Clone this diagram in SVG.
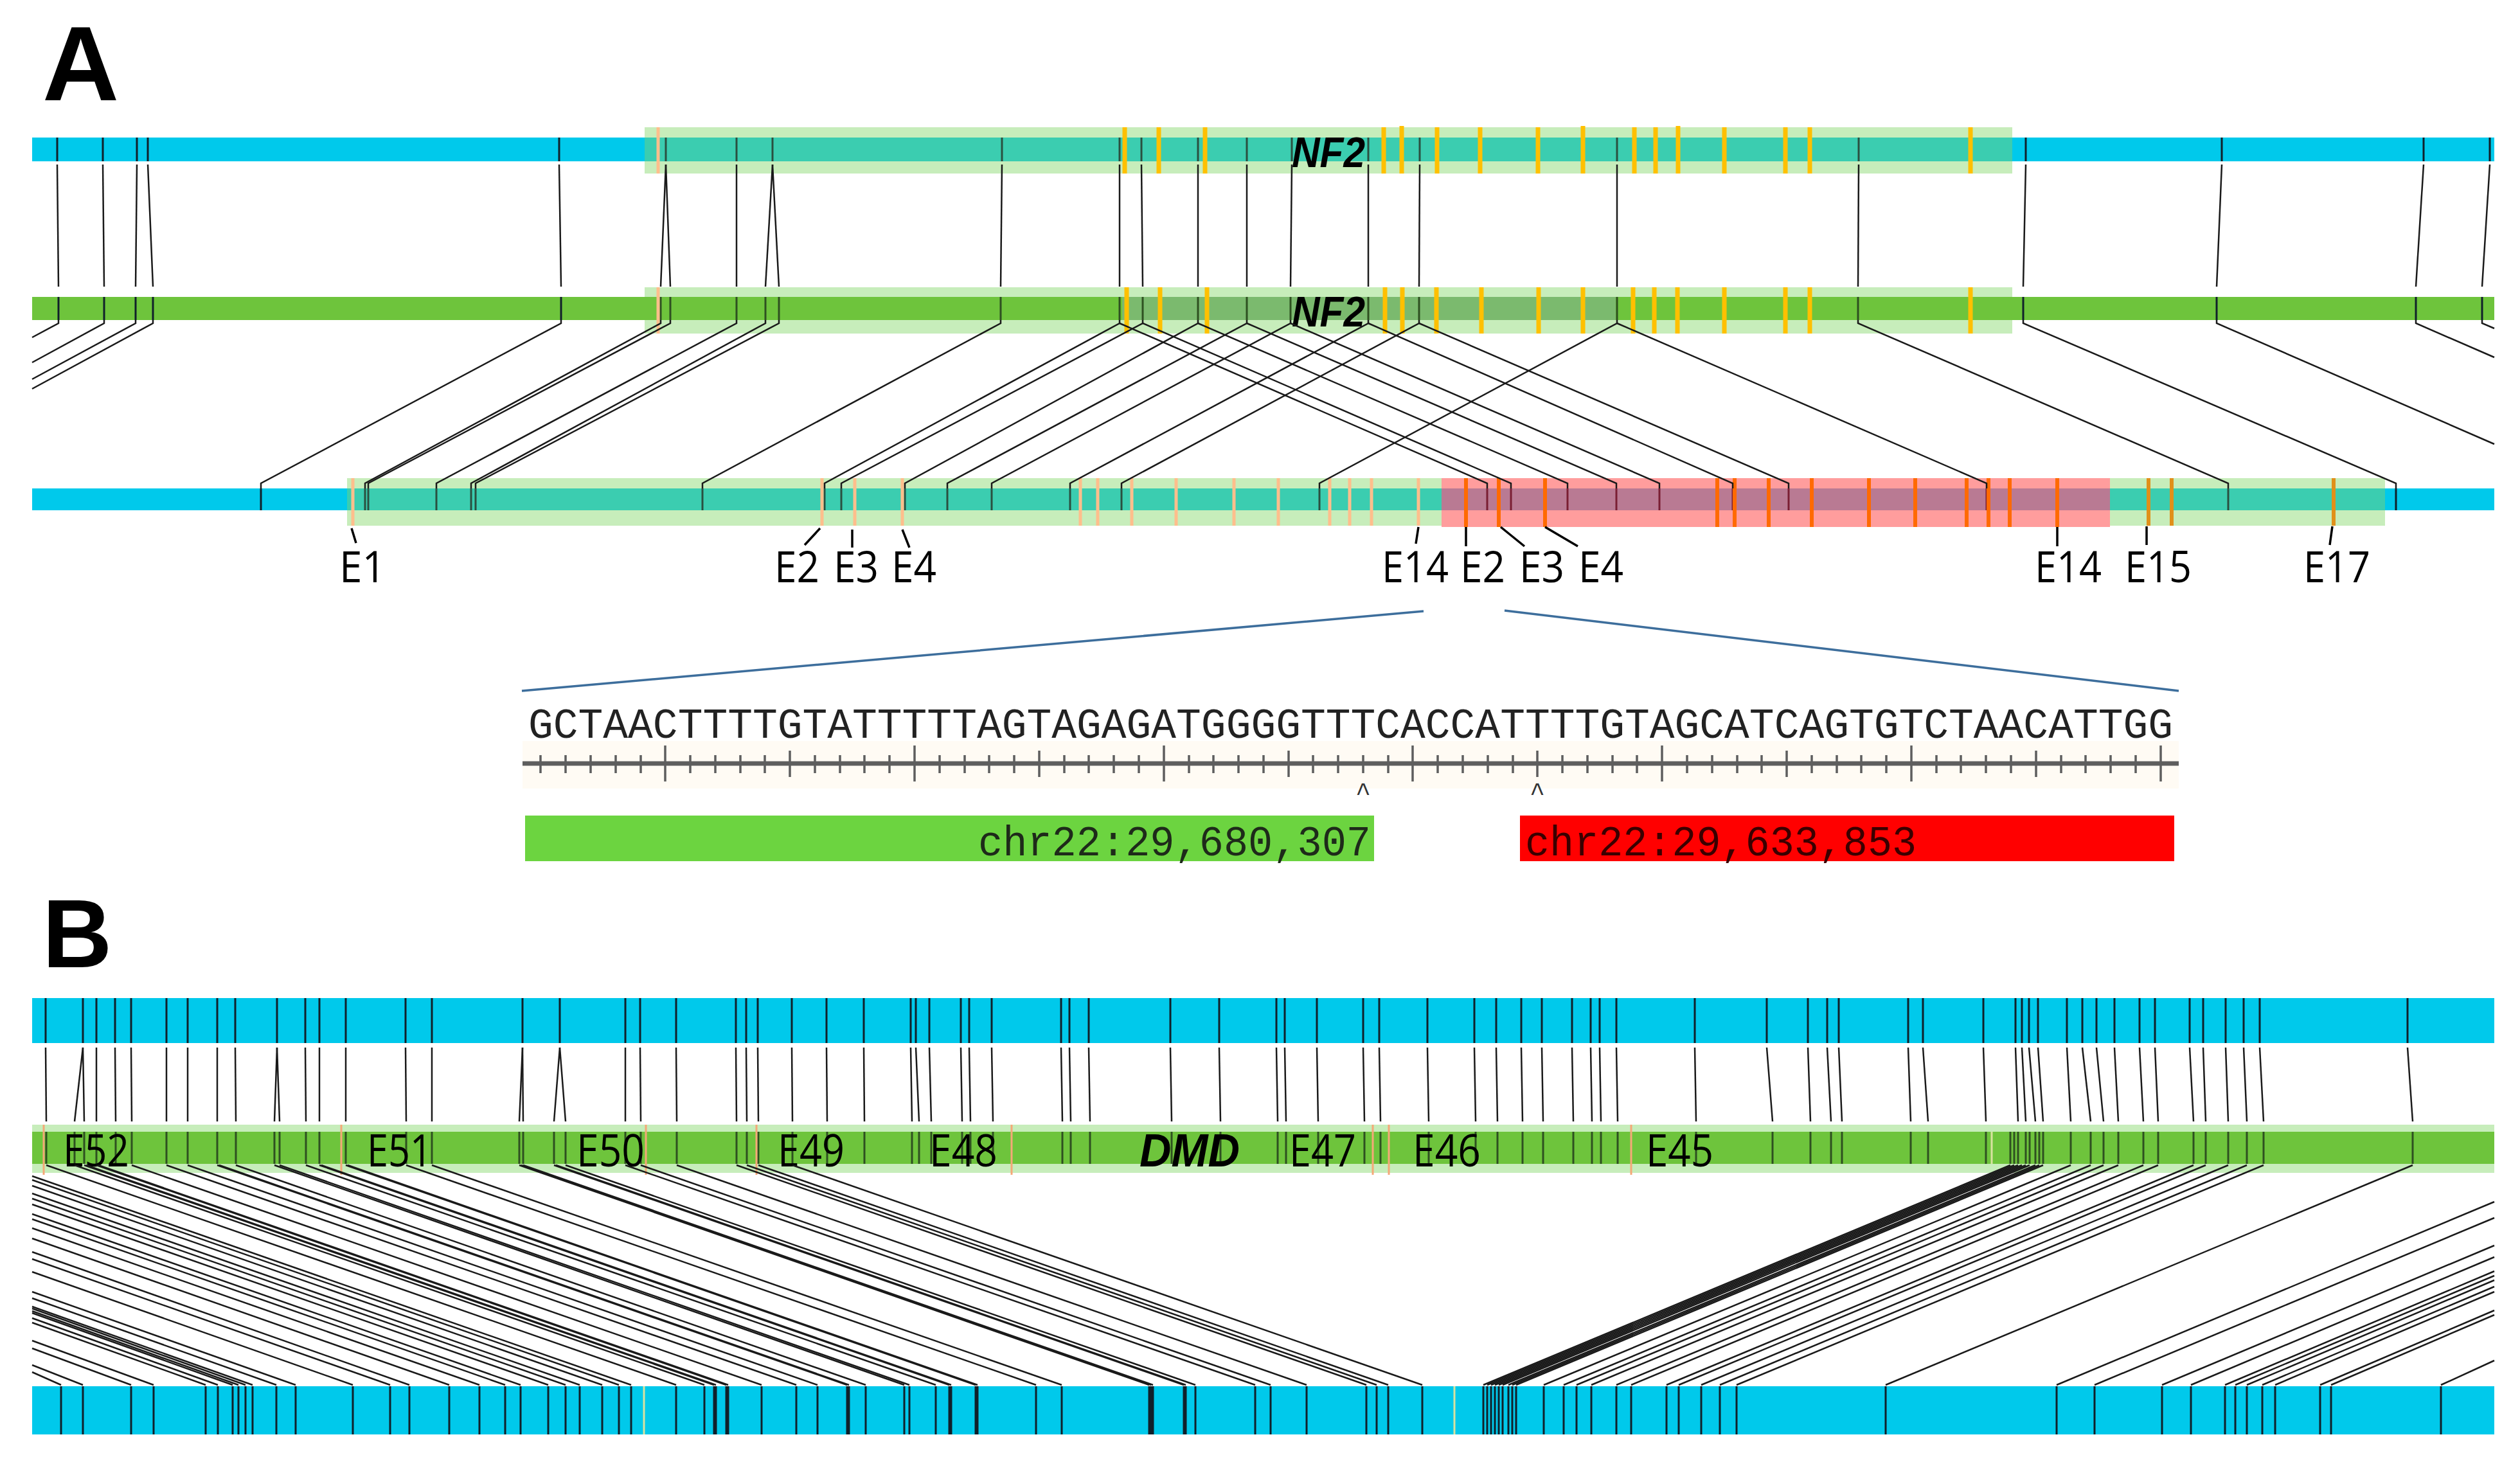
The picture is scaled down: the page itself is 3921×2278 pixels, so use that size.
<svg xmlns="http://www.w3.org/2000/svg" width="3921" height="2278" viewBox="0 0 3921 2278">
<style>
.hl{fill:#C7EDBB}
.blue{fill:#00C9EB}
.teal{fill:#3BCDB0}
.grn{fill:#6EC43C}
.dgrn{fill:#7BBA6E}
.pink{fill:#FF9D9D}
.mauve{fill:#B97A93}
.tk{stroke:#10202a;stroke-width:3;fill:none}
.tkg{stroke:#2a5040;stroke-width:3;fill:none}
.tkd{stroke:#2e5020;stroke-width:3;fill:none}
.tkr{stroke:#7a1e33;stroke-width:3;fill:none}
.ex{stroke:#FFC000;stroke-width:7;fill:none}
.exl{stroke:#FFBE8C;stroke-width:5;fill:none}
.exr{stroke:#FF6A00;stroke-width:6;fill:none}
.exb{stroke:#E0901A;stroke-width:6;fill:none}
.exthin{stroke:#F5A878;stroke-width:3;fill:none}
.exy{stroke:#D8E2A0;stroke-width:3;fill:none}
.con{stroke:#1a1a1a;stroke-width:2.5;fill:none}
.ltk{stroke:#000;stroke-width:3.5;fill:none}
.zoom{stroke:#3D6E9C;stroke-width:3.5;fill:none}
.lbl{font-family:"Open Sans","Liberation Sans",sans-serif;font-size:68px;fill:#000}
.lblb{font-family:"Open Sans","Liberation Sans",sans-serif;font-size:70px;fill:#000}
.gene{font-family:"Liberation Sans","Open Sans",sans-serif;font-weight:bold;font-style:italic;fill:#000}
.mono{font-family:"Liberation Mono","DejaVu Sans Mono",monospace}
.panel{font-family:"Liberation Sans","Open Sans",sans-serif;font-weight:bold;fill:#000}
</style>
<rect width="3921" height="2278" fill="#FFFFFF"/>

<text class="panel" x="66" y="156" font-size="165">A</text>
<text class="panel" x="66" y="1505" font-size="150">B</text>

<!-- Panel A track 1 -->
<g id="track-a1">
<rect class="hl" x="1003" y="198" width="2128" height="72"/>
<rect class="blue" x="50" y="214" width="953" height="37"/>
<rect class="teal" x="1003" y="214" width="2128" height="37"/>
<rect class="blue" x="3131" y="214" width="750" height="37"/>
<path class="tk" d="M89 214V251M160 214V251M213 214V251M230 214V251M870 214V251M3152 214V251M3457 214V251M3771 214V251M3874 214V251"/>
<path class="tkg" d="M1036 214V251M1146 214V251M1202 214V251M1559 214V251M1742 214V251M1776 214V251M1864 214V251M1940 214V251M2010 214V251M2129 214V251M2209 214V251M2516 214V251M2892 214V251"/>
<path class="exl" d="M1024 198V270"/>
<path class="ex" d="M1750 198V270M1803 198V270M1875 198V270M2153 198V270M2181 196V270M2236 198V270M2303 198V270M2393 198V270M2463 196V270M2543 198V270M2576 198V270M2611 196V270M2683 198V270M2778 198V270M2816 198V270M3066 198V270"/>
<text class="gene" x="2010" y="260" font-size="66" textLength="114" lengthAdjust="spacingAndGlyphs">NF2</text>
</g>

<!-- Panel A track 2 -->
<g id="track-a2">
<rect class="hl" x="1003" y="447" width="2128" height="72"/>
<rect class="grn" x="50" y="462" width="3831" height="36"/>
<rect class="dgrn" x="1746" y="462" width="768" height="36"/>
<path class="tk" d="M91 462V498M162 462V498M211 462V498M238 462V498M873 462V498M3148 462V498M3449 462V498M3759 462V498M3862 462V498"/>
<path class="tkd" d="M1028 462V498M1043 462V498M1146 462V498M1191 462V498M1212 462V498M1557 462V498M1742 462V498M1778 462V498M1864 462V498M1940 462V498M2008 462V498M2129 462V498M2208 462V498M2516 462V498M2891 462V498"/>
<path class="exl" d="M1024 447V519"/>
<path class="ex" d="M1753 447V519M1805 447V519M1878 447V519M2155 447V519M2182 447V519M2235 447V519M2305 447V519M2394 447V519M2463 447V519M2541 447V519M2574 447V519M2610 447V519M2683 447V519M2778 447V519M2816 447V519M3066 447V519"/>
<text class="gene" x="2010" y="508" font-size="66" textLength="114" lengthAdjust="spacingAndGlyphs">NF2</text>
</g>

<!-- Panel A track 3 -->
<g id="track-a3">
<rect class="hl" x="540" y="744" width="1703" height="74"/>
<rect class="hl" x="3283" y="744" width="428" height="74"/>
<rect class="pink" x="2243" y="744" width="1040" height="76"/>
<rect class="blue" x="50" y="760" width="490" height="34"/>
<rect class="teal" x="540" y="760" width="1703" height="34"/>
<rect class="mauve" x="2243" y="760" width="1040" height="34"/>
<rect class="teal" x="3283" y="760" width="428" height="34"/>
<rect class="blue" x="3711" y="760" width="170" height="34"/>
<path class="tk" d="M406 760V794M3728 760V794"/>
<path class="tkg" d="M568 760V794M573 760V794M679 760V794M733 760V794M740 760V794M1093 760V794M1283 760V794M1309 760V794M1408 760V794M1474 760V794M1543 760V794M1665 760V794M1745 760V794M2053 760V794M3467 760V794"/>
<path class="tkr" d="M2314 760V794M2351 760V794M2439 760V794M2515 760V794M2582 760V794M2696 760V794M2783 760V794M3091 760V794"/>
<path class="exl" d="M549 744V818M1279 744V818M1330 744V818M1404 744V818M1681 744V818M1708 744V818M1761 744V818M1830 744V818M1920 744V818M1989 744V818M2069 744V818M2100 744V818M2134 744V818M2207 744V818"/>
<path class="exr" d="M2281 744V820M2332 744V820M2404 744V820M2672 744V820M2699 744V820M2752 744V820M2819 744V820M2908 744V820M2980 744V820M3060 744V820M3094 744V820M3127 744V820M3201 744V820"/>
<path class="exb" d="M3343 744V818M3379 744V818M3631 744V818"/>
</g>

<!-- Exon labels for track 3 -->
<g id="exon-labels-a">
<path class="ltk" d="M547 822L554 845M1276 822L1252 848M1326 824V852M1404 824L1415 852M2207 820L2203 846M2281 820V850M2335 820L2372 850M2404 820L2455 850M3201 820V850M3340 819V848M3629 819L3625 848"/>
<text class="lbl" x="528" y="906" textLength="72" lengthAdjust="spacingAndGlyphs">E1</text>
<text class="lbl" x="1205" y="906" textLength="70" lengthAdjust="spacingAndGlyphs">E2</text>
<text class="lbl" x="1297" y="906" textLength="70" lengthAdjust="spacingAndGlyphs">E3</text>
<text class="lbl" x="1387" y="906" textLength="70" lengthAdjust="spacingAndGlyphs">E4</text>
<text class="lbl" x="2150" y="906" textLength="104" lengthAdjust="spacingAndGlyphs">E14</text>
<text class="lbl" x="2272" y="906" textLength="70" lengthAdjust="spacingAndGlyphs">E2</text>
<text class="lbl" x="2364" y="906" textLength="70" lengthAdjust="spacingAndGlyphs">E3</text>
<text class="lbl" x="2456" y="906" textLength="70" lengthAdjust="spacingAndGlyphs">E4</text>
<text class="lbl" x="3166" y="906" textLength="104" lengthAdjust="spacingAndGlyphs">E14</text>
<text class="lbl" x="3306" y="906" textLength="104" lengthAdjust="spacingAndGlyphs">E15</text>
<text class="lbl" x="3584" y="906" textLength="104" lengthAdjust="spacingAndGlyphs">E17</text>
</g>

<!-- Zoom detail: breakpoint sequence -->
<g id="breakpoint-detail">
<path class="zoom" d="M812 1075L2215 951M2341 950L3390 1075"/>
<rect x="813" y="1153" width="2577" height="74" fill="#FFFBF4"/>
<text class="mono" x="822" y="1148" font-size="66" fill="#222" textLength="2559" lengthAdjust="spacingAndGlyphs">GCTAACTTTTGTATTTTTAGTAGAGATGGGGTTTCACCATTTTGTAGCATCAGTGTCTAACATTGG</text>
<path d="M813 1188H3390" stroke="#5E5E5E" stroke-width="7" fill="none"/>
<path stroke="#5E5E5E" stroke-width="3.5" fill="none" d="M841 1175V1203M880 1175V1203M919 1175V1203M958 1175V1203M997 1175V1203M1074 1175V1203M1113 1175V1203M1152 1175V1203M1190 1175V1203M1268 1175V1203M1307 1175V1203M1345 1175V1203M1384 1175V1203M1462 1175V1203M1501 1175V1203M1539 1175V1203M1578 1175V1203M1656 1175V1203M1694 1175V1203M1733 1175V1203M1772 1175V1203M1850 1175V1203M1888 1175V1203M1927 1175V1203M1966 1175V1203M2043 1175V1203M2082 1175V1203M2121 1175V1203M2160 1175V1203M2237 1175V1203M2276 1175V1203M2315 1175V1203M2354 1175V1203M2431 1175V1203M2470 1175V1203M2509 1175V1203M2547 1175V1203M2625 1175V1203M2664 1175V1203M2703 1175V1203M2741 1175V1203M2819 1175V1203M2858 1175V1203M2896 1175V1203M2935 1175V1203M3013 1175V1203M3051 1175V1203M3090 1175V1203M3129 1175V1203M3207 1175V1203M3245 1175V1203M3284 1175V1203M3323 1175V1203"/>
<path stroke="#5E5E5E" stroke-width="3.5" fill="none" d="M1229 1168V1209M1617 1168V1209M2005 1168V1209M2392 1168V1209M2780 1168V1209M3168 1168V1209"/>
<path stroke="#5E5E5E" stroke-width="3.5" fill="none" d="M1035 1160V1216M1423 1160V1216M1811 1160V1216M2198 1160V1216M2586 1160V1216M2974 1160V1216M3362 1160V1216"/>
<text class="mono" x="2121" y="1246" font-size="40" fill="#333" text-anchor="middle">^</text>
<text class="mono" x="2392" y="1246" font-size="40" fill="#333" text-anchor="middle">^</text>
<rect x="817" y="1269" width="1321" height="71" fill="#6CD440"/>
<text class="mono" x="2133" y="1331" font-size="66" fill="#1e2a1a" text-anchor="end" textLength="611" lengthAdjust="spacingAndGlyphs">chr22:29,680,307</text>
<rect x="2365" y="1269" width="1018" height="71" fill="#FF0000"/>
<text class="mono" x="2373" y="1331" font-size="66" fill="#3a0000" textLength="609" lengthAdjust="spacingAndGlyphs">chr22:29,633,853</text>
</g>

<!-- Panel B track 1 -->
<g id="track-b1">
<rect class="blue" x="50" y="1553" width="3831" height="70"/>
<path class="tk" d="M71 1553V1623M129 1553V1623M150 1553V1623M179 1553V1623M204 1553V1623M259 1553V1623M292 1553V1623M338 1553V1623M366 1553V1623M431 1553V1623M475 1553V1623M497 1553V1623M538 1553V1623M631 1553V1623M672 1553V1623M813 1553V1623M871 1553V1623M973 1553V1623M996 1553V1623M1052 1553V1623M1145 1553V1623M1161 1553V1623M1179 1553V1623M1232 1553V1623M1286 1553V1623M1344 1553V1623M1417 1553V1623M1425 1553V1623M1446 1553V1623M1495 1553V1623M1508 1553V1623M1543 1553V1623M1651 1553V1623M1664 1553V1623M1694 1553V1623M1821 1553V1623M1897 1553V1623M1986 1553V1623M1999 1553V1623M2049 1553V1623M2121 1553V1623M2146 1553V1623M2221 1553V1623M2294 1553V1623M2328 1553V1623M2367 1553V1623M2399 1553V1623M2446 1553V1623M2475 1553V1623M2489 1553V1623M2515 1553V1623M2637 1553V1623M2749 1553V1623M2813 1553V1623M2843 1553V1623M2861 1553V1623M2969 1553V1623M2992 1553V1623M3086 1553V1623M3136 1553V1623M3146 1553V1623M3157 1553V1623M3171 1553V1623M3216 1553V1623M3240 1553V1623M3262 1553V1623M3290 1553V1623M3329 1553V1623M3353 1553V1623M3407 1553V1623M3428 1553V1623M3463 1553V1623M3491 1553V1623M3516 1553V1623M3746 1553V1623"/>
</g>

<!-- Panel B track 2 (DMD) -->
<g id="track-b2">
<rect class="hl" x="50" y="1750" width="3831" height="75"/>
<rect class="grn" x="50" y="1761" width="3831" height="50"/>
<path class="tkd" d="M72 1761V1811M116 1761V1811M131 1761V1811M150 1761V1811M180 1761V1811M205 1761V1811M259 1761V1811M292 1761V1811M338 1761V1811M367 1761V1811M427 1761V1811M435 1761V1811M476 1761V1811M497 1761V1811M538 1761V1811M632 1761V1811M672 1761V1811M808 1761V1811M814 1761V1811M862 1761V1811M880 1761V1811M973 1761V1811M997 1761V1811M1053 1761V1811M1146 1761V1811M1162 1761V1811M1180 1761V1811M1233 1761V1811M1287 1761V1811M1345 1761V1811M1419 1761V1811M1430 1761V1811M1449 1761V1811M1497 1761V1811M1510 1761V1811M1545 1761V1811M1653 1761V1811M1666 1761V1811M1696 1761V1811M1823 1761V1811M1899 1761V1811M1988 1761V1811M2001 1761V1811M2051 1761V1811M2123 1761V1811M2148 1761V1811M2223 1761V1811M2296 1761V1811M2330 1761V1811M2369 1761V1811M2401 1761V1811M2448 1761V1811M2477 1761V1811M2491 1761V1811M2517 1761V1811M2639 1761V1811M2758 1761V1811M2817 1761V1811M2849 1761V1811M2866 1761V1811M2973 1761V1811M3000 1761V1811M3090 1761V1811M3128 1761V1811M3134 1761V1811M3140 1761V1811M3152 1761V1811M3158 1761V1811M3167 1761V1811M3173 1761V1811M3179 1761V1811M3222 1761V1811M3253 1761V1811M3273 1761V1811M3296 1761V1811M3335 1761V1811M3358 1761V1811M3413 1761V1811M3432 1761V1811M3467 1761V1811M3496 1761V1811M3522 1761V1811M3754 1761V1811"/>
<path class="exthin" d="M68 1750V1828M531 1750V1828M1005 1750V1828M1177 1750V1828M1574 1750V1828M2136 1750V1828M2161 1750V1828M2538 1750V1828"/>
<path class="exy" d="M3099 1761V1811"/>
<text class="lblb" x="98" y="1815" textLength="103" lengthAdjust="spacingAndGlyphs">E52</text>
<text class="lblb" x="571" y="1815" textLength="101" lengthAdjust="spacingAndGlyphs">E51</text>
<text class="lblb" x="897" y="1815" textLength="106" lengthAdjust="spacingAndGlyphs">E50</text>
<text class="lblb" x="1210" y="1815" textLength="104" lengthAdjust="spacingAndGlyphs">E49</text>
<text class="lblb" x="1446" y="1815" textLength="106" lengthAdjust="spacingAndGlyphs">E48</text>
<text class="gene" x="1773" y="1815" font-size="72" textLength="156" lengthAdjust="spacingAndGlyphs">DMD</text>
<text class="lblb" x="2006" y="1815" textLength="104" lengthAdjust="spacingAndGlyphs">E47</text>
<text class="lblb" x="2198" y="1815" textLength="106" lengthAdjust="spacingAndGlyphs">E46</text>
<text class="lblb" x="2561" y="1815" textLength="105" lengthAdjust="spacingAndGlyphs">E45</text>
</g>

<!-- Panel B track 3 -->
<g id="track-b3">
<rect class="blue" x="50" y="2157" width="3831" height="75"/>
<path class="tk" d="M95 2157V2232M129 2157V2232M204 2157V2232M239 2157V2232M320 2157V2232M339 2157V2232M362 2157V2232M371 2157V2232M382 2157V2232M393 2157V2232M430 2157V2232M460 2157V2232M549 2157V2232M607 2157V2232M637 2157V2232M699 2157V2232M746 2157V2232M786 2157V2232M810 2157V2232M853 2157V2232M880 2157V2232M902 2157V2232M937 2157V2232M963 2157V2232M982 2157V2232M1052 2157V2232M1096 2157V2232M1111 2157V2232M1114 2157V2232M1130 2157V2232M1133 2157V2232M1185 2157V2232M1239 2157V2232M1272 2157V2232M1318 2157V2232M1321 2157V2232M1347 2157V2232M1407 2157V2232M1415 2157V2232M1456 2157V2232M1477 2157V2232M1480 2157V2232M1518 2157V2232M1521 2157V2232M1612 2157V2232M1652 2157V2232M1788 2157V2232M1791 2157V2232M1794 2157V2232M1842 2157V2232M1845 2157V2232M1860 2157V2232M1953 2157V2232M1977 2157V2232M2033 2157V2232M2126 2157V2232M2142 2157V2232M2160 2157V2232M2213 2157V2232M2308 2157V2232M2314 2157V2232M2320 2157V2232M2326 2157V2232M2332 2157V2232M2338 2157V2232M2347 2157V2232M2353 2157V2232M2359 2157V2232M2402 2157V2232M2433 2157V2232M2453 2157V2232M2476 2157V2232M2515 2157V2232M2538 2157V2232M2593 2157V2232M2612 2157V2232M2647 2157V2232M2676 2157V2232M2702 2157V2232M2934 2157V2232M3200 2157V2232M3259 2157V2232M3364 2157V2232M3409 2157V2232M3462 2157V2232M3478 2157V2232M3496 2157V2232M3520 2157V2232M3540 2157V2232M3610 2157V2232M3627 2157V2232M3798 2157V2232"/>
<path class="exy" d="M1002 2157V2232M2263 2157V2232"/>
</g>

<!-- Connectors -->
<g id="connectors">
<!-- A: track1 to track2 -->
<path class="con" d="M89 256L91 446"/>
<path class="con" d="M160 256L162 446"/>
<path class="con" d="M213 256L211 446"/>
<path class="con" d="M230 256L238 446"/>
<path class="con" d="M870 256L873 446"/>
<path class="con" d="M1036 256L1028 446"/>
<path class="con" d="M1036 256L1043 446"/>
<path class="con" d="M1146 256L1146 446"/>
<path class="con" d="M1202 256L1191 446"/>
<path class="con" d="M1202 256L1212 446"/>
<path class="con" d="M1559 256L1557 446"/>
<path class="con" d="M1742 256L1742 446"/>
<path class="con" d="M1776 256L1778 446"/>
<path class="con" d="M1864 256L1864 446"/>
<path class="con" d="M1940 256L1940 446"/>
<path class="con" d="M2010 256L2008 446"/>
<path class="con" d="M2129 256L2129 446"/>
<path class="con" d="M2209 256L2208 446"/>
<path class="con" d="M2516 256L2516 446"/>
<path class="con" d="M2892 256L2891 446"/>
<path class="con" d="M3152 256L3148 446"/>
<path class="con" d="M3457 256L3449 446"/>
<path class="con" d="M3771 256L3759 446"/>
<path class="con" d="M3874 256L3862 446"/>
<!-- A: track2 to track3 -->
<path class="con" d="M91 498V503L50 525"/>
<path class="con" d="M162 498V503L50 564"/>
<path class="con" d="M211 498V503L50 590"/>
<path class="con" d="M238 498V503L50 605"/>
<path class="con" d="M873 498V503L406 752V760"/>
<path class="con" d="M1028 498V503L568 752V760"/>
<path class="con" d="M1043 498V503L573 752V760"/>
<path class="con" d="M1146 498V503L679 752V760"/>
<path class="con" d="M1191 498V503L733 752V760"/>
<path class="con" d="M1212 498V503L740 752V760"/>
<path class="con" d="M1557 498V503L1093 752V760"/>
<path class="con" d="M1742 498V503L1283 752V760"/>
<path class="con" d="M1742 503L2314 752V760"/>
<path class="con" d="M1778 498V503L1309 752V760"/>
<path class="con" d="M1778 503L2351 752V760"/>
<path class="con" d="M1864 498V503L1408 752V760"/>
<path class="con" d="M1864 503L2439 752V760"/>
<path class="con" d="M1940 498V503L1474 752V760"/>
<path class="con" d="M1940 503L2515 752V760"/>
<path class="con" d="M2008 498V503L1543 752V760"/>
<path class="con" d="M2008 503L2582 752V760"/>
<path class="con" d="M2129 498V503L1665 752V760"/>
<path class="con" d="M2129 503L2696 752V760"/>
<path class="con" d="M2208 498V503L1745 752V760"/>
<path class="con" d="M2208 503L2783 752V760"/>
<path class="con" d="M2516 498V503L2053 752V760"/>
<path class="con" d="M2516 503L3091 752V760"/>
<path class="con" d="M2891 498V503L3467 752V760"/>
<path class="con" d="M3148 498V503L3728 752V760"/>
<path class="con" d="M3449 498V503L3881 691"/>
<path class="con" d="M3759 498V503L3881 556"/>
<path class="con" d="M3862 498V503L3881 511"/>
<!-- B: track1 to track2 -->
<path class="con" d="M71 1630L72 1745"/>
<path class="con" d="M129 1630L116 1745"/>
<path class="con" d="M129 1630L131 1745"/>
<path class="con" d="M150 1630L150 1745"/>
<path class="con" d="M179 1630L180 1745"/>
<path class="con" d="M204 1630L205 1745"/>
<path class="con" d="M259 1630L259 1745"/>
<path class="con" d="M292 1630L292 1745"/>
<path class="con" d="M338 1630L338 1745"/>
<path class="con" d="M366 1630L367 1745"/>
<path class="con" d="M431 1630L427 1745"/>
<path class="con" d="M431 1630L435 1745"/>
<path class="con" d="M475 1630L476 1745"/>
<path class="con" d="M497 1630L497 1745"/>
<path class="con" d="M538 1630L538 1745"/>
<path class="con" d="M631 1630L632 1745"/>
<path class="con" d="M672 1630L672 1745"/>
<path class="con" d="M813 1630L808 1745"/>
<path class="con" d="M813 1630L814 1745"/>
<path class="con" d="M871 1630L862 1745"/>
<path class="con" d="M871 1630L880 1745"/>
<path class="con" d="M973 1630L973 1745"/>
<path class="con" d="M996 1630L997 1745"/>
<path class="con" d="M1052 1630L1053 1745"/>
<path class="con" d="M1145 1630L1146 1745"/>
<path class="con" d="M1161 1630L1162 1745"/>
<path class="con" d="M1179 1630L1180 1745"/>
<path class="con" d="M1232 1630L1233 1745"/>
<path class="con" d="M1286 1630L1287 1745"/>
<path class="con" d="M1344 1630L1345 1745"/>
<path class="con" d="M1417 1630L1419 1745"/>
<path class="con" d="M1425 1630L1430 1745"/>
<path class="con" d="M1446 1630L1449 1745"/>
<path class="con" d="M1495 1630L1497 1745"/>
<path class="con" d="M1508 1630L1510 1745"/>
<path class="con" d="M1543 1630L1545 1745"/>
<path class="con" d="M1651 1630L1653 1745"/>
<path class="con" d="M1664 1630L1666 1745"/>
<path class="con" d="M1694 1630L1696 1745"/>
<path class="con" d="M1821 1630L1823 1745"/>
<path class="con" d="M1897 1630L1899 1745"/>
<path class="con" d="M1986 1630L1988 1745"/>
<path class="con" d="M1999 1630L2001 1745"/>
<path class="con" d="M2049 1630L2051 1745"/>
<path class="con" d="M2121 1630L2123 1745"/>
<path class="con" d="M2146 1630L2148 1745"/>
<path class="con" d="M2221 1630L2223 1745"/>
<path class="con" d="M2294 1630L2296 1745"/>
<path class="con" d="M2328 1630L2330 1745"/>
<path class="con" d="M2367 1630L2369 1745"/>
<path class="con" d="M2399 1630L2401 1745"/>
<path class="con" d="M2446 1630L2448 1745"/>
<path class="con" d="M2475 1630L2477 1745"/>
<path class="con" d="M2489 1630L2491 1745"/>
<path class="con" d="M2515 1630L2517 1745"/>
<path class="con" d="M2637 1630L2639 1745"/>
<path class="con" d="M2749 1630L2758 1745"/>
<path class="con" d="M2813 1630L2817 1745"/>
<path class="con" d="M2843 1630L2849 1745"/>
<path class="con" d="M2861 1630L2866 1745"/>
<path class="con" d="M2969 1630L2973 1745"/>
<path class="con" d="M2992 1630L3000 1745"/>
<path class="con" d="M3086 1630L3090 1745"/>
<path class="con" d="M3136 1630L3140 1745"/>
<path class="con" d="M3146 1630L3152 1745"/>
<path class="con" d="M3157 1630L3167 1745"/>
<path class="con" d="M3171 1630L3179 1745"/>
<path class="con" d="M3216 1630L3222 1745"/>
<path class="con" d="M3240 1630L3253 1745"/>
<path class="con" d="M3262 1630L3273 1745"/>
<path class="con" d="M3290 1630L3296 1745"/>
<path class="con" d="M3329 1630L3335 1745"/>
<path class="con" d="M3353 1630L3358 1745"/>
<path class="con" d="M3407 1630L3413 1745"/>
<path class="con" d="M3428 1630L3432 1745"/>
<path class="con" d="M3463 1630L3467 1745"/>
<path class="con" d="M3491 1630L3496 1745"/>
<path class="con" d="M3516 1630L3522 1745"/>
<path class="con" d="M3746 1630L3754 1745"/>
<!-- B: track2 to track3, left block -->
<path class="con" d="M50 2135L95 2155"/>
<path class="con" d="M50 2124L129 2155"/>
<path class="con" d="M50 2098L204 2155"/>
<path class="con" d="M50 2086L239 2155"/>
<path class="con" d="M50 2058L320 2155"/>
<path class="con" d="M50 2051L339 2155"/>
<path class="con" d="M50 2043L362 2155"/>
<path class="con" d="M50 2040L371 2155"/>
<path class="con" d="M50 2036L382 2155"/>
<path class="con" d="M50 2033L393 2155"/>
<path class="con" d="M50 2020L430 2155"/>
<path class="con" d="M50 2010L460 2155"/>
<path class="con" d="M50 1979L549 2155"/>
<path class="con" d="M50 1959L607 2155"/>
<path class="con" d="M50 1948L637 2155"/>
<path class="con" d="M50 1927L699 2155"/>
<path class="con" d="M50 1911L746 2155"/>
<path class="con" d="M50 1897L786 2155"/>
<path class="con" d="M50 1889L810 2155"/>
<path class="con" d="M50 1874L853 2155"/>
<path class="con" d="M50 1865L880 2155"/>
<path class="con" d="M50 1857L902 2155"/>
<path class="con" d="M50 1845L937 2155"/>
<path class="con" d="M50 1836L963 2155"/>
<path class="con" d="M50 1830L982 2155"/>
<path class="con" d="M72 1813L1052 2155"/>
<path class="con" d="M116 1813L1096 2155"/>
<path class="con" d="M131 1813L1111 2155"/>
<path class="con" d="M134 1813L1114 2155"/>
<path class="con" d="M150 1813L1130 2155"/>
<path class="con" d="M153 1813L1133 2155"/>
<path class="con" d="M205 1813L1185 2155"/>
<path class="con" d="M259 1813L1239 2155"/>
<path class="con" d="M292 1813L1272 2155"/>
<path class="con" d="M338 1813L1318 2155"/>
<path class="con" d="M341 1813L1321 2155"/>
<path class="con" d="M367 1813L1347 2155"/>
<path class="con" d="M427 1813L1407 2155"/>
<path class="con" d="M435 1813L1415 2155"/>
<path class="con" d="M476 1813L1456 2155"/>
<path class="con" d="M497 1813L1477 2155"/>
<path class="con" d="M500 1813L1480 2155"/>
<path class="con" d="M538 1813L1518 2155"/>
<path class="con" d="M541 1813L1521 2155"/>
<path class="con" d="M632 1813L1612 2155"/>
<path class="con" d="M672 1813L1652 2155"/>
<path class="con" d="M808 1813L1788 2155"/>
<path class="con" d="M811 1813L1791 2155"/>
<path class="con" d="M814 1813L1794 2155"/>
<path class="con" d="M862 1813L1842 2155"/>
<path class="con" d="M865 1813L1845 2155"/>
<path class="con" d="M880 1813L1860 2155"/>
<path class="con" d="M973 1813L1953 2155"/>
<path class="con" d="M997 1813L1977 2155"/>
<path class="con" d="M1053 1813L2033 2155"/>
<path class="con" d="M1146 1813L2126 2155"/>
<path class="con" d="M1162 1813L2142 2155"/>
<path class="con" d="M1180 1813L2160 2155"/>
<path class="con" d="M1233 1813L2213 2155"/>
<!-- B: track2 to track3, right block -->
<path class="con" d="M3128 1813L2308 2155"/>
<path class="con" d="M3134 1813L2314 2155"/>
<path class="con" d="M3140 1813L2320 2155"/>
<path class="con" d="M3146 1813L2326 2155"/>
<path class="con" d="M3152 1813L2332 2155"/>
<path class="con" d="M3158 1813L2338 2155"/>
<path class="con" d="M3167 1813L2347 2155"/>
<path class="con" d="M3173 1813L2353 2155"/>
<path class="con" d="M3179 1813L2359 2155"/>
<path class="con" d="M3222 1813L2402 2155"/>
<path class="con" d="M3253 1813L2433 2155"/>
<path class="con" d="M3273 1813L2453 2155"/>
<path class="con" d="M3296 1813L2476 2155"/>
<path class="con" d="M3335 1813L2515 2155"/>
<path class="con" d="M3358 1813L2538 2155"/>
<path class="con" d="M3413 1813L2593 2155"/>
<path class="con" d="M3432 1813L2612 2155"/>
<path class="con" d="M3467 1813L2647 2155"/>
<path class="con" d="M3496 1813L2676 2155"/>
<path class="con" d="M3522 1813L2702 2155"/>
<path class="con" d="M3754 1813L2934 2155"/>
<path class="con" d="M3881 1870L3200 2155"/>
<path class="con" d="M3881 1895L3259 2155"/>
<path class="con" d="M3881 1938L3364 2155"/>
<path class="con" d="M3881 1956L3409 2155"/>
<path class="con" d="M3881 1978L3462 2155"/>
<path class="con" d="M3881 1985L3478 2155"/>
<path class="con" d="M3881 1992L3496 2155"/>
<path class="con" d="M3881 2002L3520 2155"/>
<path class="con" d="M3881 2010L3540 2155"/>
<path class="con" d="M3881 2039L3610 2155"/>
<path class="con" d="M3881 2046L3627 2155"/>
<path class="con" d="M3881 2117L3798 2155"/>
</g>
</svg>
